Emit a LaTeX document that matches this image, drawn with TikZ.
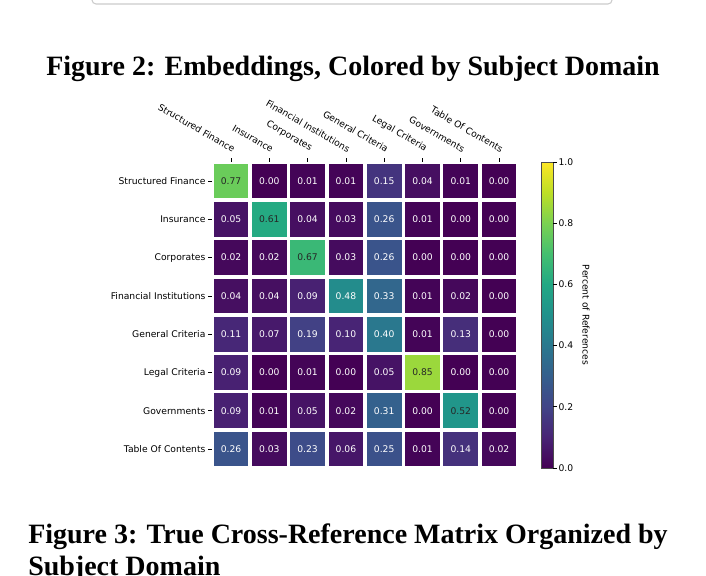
\documentclass[tikz,border=0pt]{standalone}
\usepackage{fontspec}
\setmainfont{Liberation Serif}
\newfontfamily\dvs{DejaVu Sans}
\definecolor{v0}{HTML}{440154}
\definecolor{v1}{HTML}{482475}
\definecolor{v2}{HTML}{414487}
\definecolor{v3}{HTML}{355F8D}
\definecolor{v4}{HTML}{2A788E}
\definecolor{v5}{HTML}{21918C}
\definecolor{v6}{HTML}{22A884}
\definecolor{v7}{HTML}{44BF70}
\definecolor{v8}{HTML}{7AD151}
\definecolor{v9}{HTML}{BDDF26}
\definecolor{v10}{HTML}{FDE725}
\begin{document}
\begin{tikzpicture}[x=0.75pt,y=-0.75pt,
  captext/.style={font=\fontsize{21}{24}\selectfont\bfseries, inner sep=0pt},
  ticklabel/.style={font=\dvs\fontsize{6.9}{7.5}\selectfont, inner sep=1pt},
  cell/.style={minimum size=27.2pt, inner sep=0pt, draw=white, line width=1.2pt, font=\dvs\fontsize{6.9}{7.5}\selectfont}]
\useasboundingbox (0,0) rectangle (706,575);
\fill[white] (0,0) rectangle (706,575);
\draw[gray!40, line width=0.8pt, rounded corners=3pt] (92,-10) rectangle (612,4);
\node[captext] (c2) at (353,69) {Figure 2: Embeddings, Colored by Subject Domain};
\node[captext, anchor=base west] (c3a) at (28,543) {Figure 3: True Cross-Reference Matrix Organized by};
\node[captext, anchor=base west] (c3b) at (28,575) {Subject Domain};
% column labels
\foreach \name [count=\c from 0] in {Structured Finance,Insurance,Corporates,Financial Institutions,General Criteria,Legal Criteria,Governments,Table Of Contents}{
  \pgfmathsetmacro\xx{231+38.3*\c}
  \draw[line width=0.5pt] (\xx,158) -- (\xx,162);
  \node[ticklabel, rotate=-30, anchor=south east] (col\c) at (\xx+2,155) {\name};
  \pgfmathsetmacro\yy{181+38.3*\c}
  \draw[line width=0.5pt] (208,\yy) -- (212,\yy);
  \node[ticklabel, anchor=east] (row\c) at (207,\yy) {\name};
}
\foreach \rowvals [count=\r from 0] in {
 {0.77,0.00,0.01,0.01,0.15,0.04,0.01,0.00},
 {0.05,0.61,0.04,0.03,0.26,0.01,0.00,0.00},
 {0.02,0.02,0.67,0.03,0.26,0.00,0.00,0.00},
 {0.04,0.04,0.09,0.48,0.33,0.01,0.02,0.00},
 {0.11,0.07,0.19,0.10,0.40,0.01,0.13,0.00},
 {0.09,0.00,0.01,0.00,0.05,0.85,0.00,0.00},
 {0.09,0.01,0.05,0.02,0.31,0.00,0.52,0.00},
 {0.26,0.03,0.23,0.06,0.25,0.01,0.14,0.02}}{
  \foreach \v [count=\c from 0] in \rowvals {
    \pgfmathsetmacro\s{\v*10}
    \pgfmathtruncatemacro\i{floor(\s)}
    \pgfmathtruncatemacro\j{min(\i+1,10)}
    \pgfmathtruncatemacro\p{round((\s-\i)*100)}
    \colorlet{cc}{v\j!\p!v\i}
    \pgfmathtruncatemacro\dark{\v>=0.5 ? 1 : 0}
    \ifnum\dark=1 \colorlet{tc}{black!85}\else\colorlet{tc}{white}\fi
    \node[cell, fill=cc, text=tc] (cell-\r-\c) at (231+38.3*\c,181+38.3*\r) {\v};
  }
}
% colorbar
\foreach \k [evaluate=\k as \kk using int(\k+1)] in {0,...,9}{
  \shade[bottom color=v\k, top color=v\kk] (541,468-30.6*\k) rectangle (553,468-30.6*\kk);
}
\draw[black!70, line width=0.4pt] (541,162) rectangle (553,468);
\foreach \t in {0.0,0.2,0.4,0.6,0.8,1.0}{
  \pgfmathsetmacro\yy{468-306*\t}
  \draw[line width=0.5pt] (553,\yy) -- (557,\yy);
  \node[ticklabel, anchor=west] (cb\t) at (557,\yy) {\t};
}
\node[ticklabel, rotate=-90] (cblabel) at (586,315) {Percent of References};
\end{tikzpicture}
\end{document}
